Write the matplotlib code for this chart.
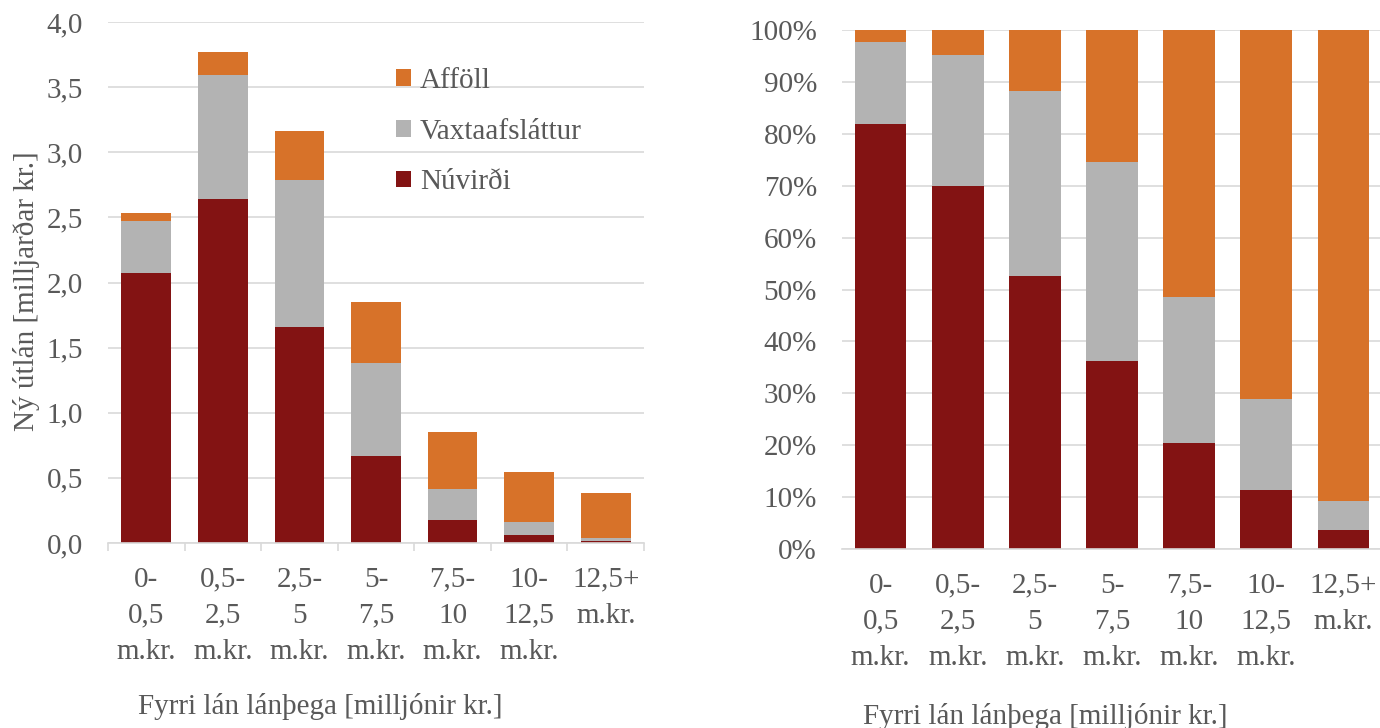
import matplotlib
matplotlib.use("Agg")
import matplotlib.pyplot as plt
import numpy as np
from matplotlib.ticker import FuncFormatter, FixedLocator

plt.rcParams['font.family'] = ['Liberation Serif', 'DejaVu Serif']

# Data (milljarðar kr.)
categories = ["0-\n0,5\nm.kr.", "0,5-\n2,5\nm.kr.", "2,5-\n5\nm.kr.",
              "5-\n7,5\nm.kr.", "7,5-\n10\nm.kr.", "10-\n12,5\nm.kr.",
              "12,5+\nm.kr.\n"]
nuvirdi = np.array([2.07, 2.64, 1.66, 0.67, 0.175, 0.062, 0.014])
vaxtaafslattur = np.array([0.40, 0.95, 1.13, 0.71, 0.24, 0.096, 0.022])
affoll = np.array([0.06, 0.18, 0.37, 0.47, 0.44, 0.39, 0.351])

series_names = ["Núvirði", "Vaxtaafsláttur", "Afföll"]
colors = ["#831313", "#b3b3b3", "#d77229"]
text_color = "#595959"
grid_color = "#d9d9d9"
fs = 21

W, H = 1380, 728
fig = plt.figure(figsize=(W / 100, H / 100), dpi=100)


def px_axes(left, top, right, bottom):
    return fig.add_axes([left / W, 1 - bottom / H, (right - left) / W,
                         (bottom - top) / H])


def style_axes(ax):
    for s in ["top", "right", "left"]:
        ax.spines[s].set_visible(False)
    ax.spines["bottom"].set_color(grid_color)
    ax.spines["bottom"].set_linewidth(1.2)
    ax.grid(axis="y", color=grid_color, linewidth=1.2)
    ax.set_axisbelow(True)
    ax.tick_params(axis="y", length=0, pad=18, labelsize=fs,
                   labelcolor=text_color)
    ax.tick_params(axis="x", which="major", length=0, pad=17, labelsize=fs,
                   labelcolor=text_color)
    ax.set_xlim(-0.5, len(categories) - 0.5)
    ax.set_xticks(np.arange(len(categories)))
    ax.set_xticklabels(categories, linespacing=1.5, va="top")


x = np.arange(len(categories))
stack = [nuvirdi, vaxtaafslattur, affoll]

# Left: absolute values
ax1 = px_axes(108, 22, 644, 543)
bottom = np.zeros(len(x))
bars = []
for vals, name, c in zip(stack, series_names, colors):
    b = ax1.bar(x, vals, 0.65, bottom=bottom, color=c, label=name)
    bars.append(b)
    bottom += vals
style_axes(ax1)
ax1.set_ylim(0, 4.0)
ax1.set_yticks(np.arange(0, 4.01, 0.5))
ax1.yaxis.set_major_formatter(FuncFormatter(
    lambda v, p: f"{v:.1f}".replace(".", ",")))
ax1.xaxis.set_minor_locator(FixedLocator(np.arange(-0.5, len(x), 1.0)))
ax1.tick_params(axis="x", which="minor", length=6, color=grid_color, width=1.2)
ax1.set_ylabel("Ný útlán [milljarðar kr.]", fontsize=fs, color=text_color,
               va="center")
ax1.yaxis.set_label_coords(-0.152, 0.484)
ax1.set_xlabel("Fyrri lán lánþega [milljónir kr.]", fontsize=fs,
               color=text_color, va="center")
ax1.xaxis.set_label_coords(0.396, -0.313)
ax1.legend(bars[::-1], series_names[::-1], loc="upper left",
           bbox_to_anchor=(0.511, 0.94), frameon=False, fontsize=fs,
           handlelength=0.5, handleheight=0.5, handletextpad=0.3,
           labelspacing=0.85, borderpad=0, labelcolor=text_color)

# Right: shares
total = nuvirdi + vaxtaafslattur + affoll
ax2 = px_axes(842, 30, 1382, 549)
bottom = np.zeros(len(x))
for vals, name, c in zip(stack, series_names, colors):
    share = vals / total * 100
    ax2.bar(x, share, 0.67, bottom=bottom, color=c, label=name)
    bottom += share
style_axes(ax2)
ax2.set_ylim(0, 100)
ax2.set_yticks(np.arange(0, 101, 10))
ax2.yaxis.set_major_formatter(FuncFormatter(lambda v, p: f"{v:.0f}%"))
ax2.set_xlabel("Fyrri lán lánþega [milljónir kr.]", fontsize=fs,
               color=text_color, va="center")
ax2.xaxis.set_label_coords(0.376, -0.322)

fig.savefig("out.png", dpi=100, facecolor="white")
